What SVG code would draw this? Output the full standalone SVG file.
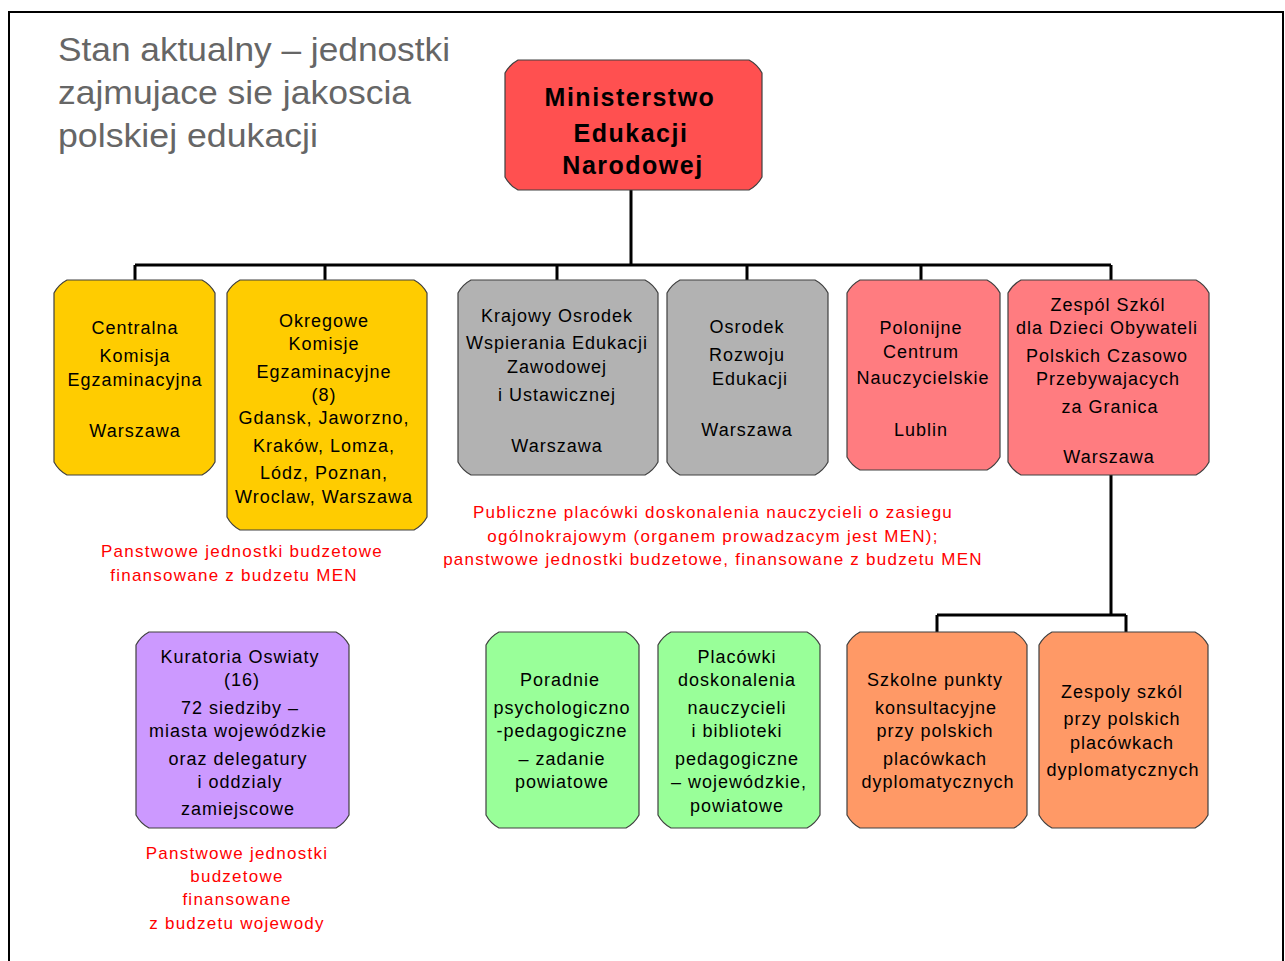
<svg xmlns="http://www.w3.org/2000/svg" width="1285" height="961" viewBox="0 0 1285 961">
<style>
.box{stroke:#404040;stroke-width:1.2}
.yel{fill:#FFCC00}.gry{fill:#B2B2B2}.pnk{fill:#FF7C80}.red{fill:#FF5050}
.pur{fill:#CC99FF}.grn{fill:#99FF99}.orn{fill:#FF9966}
.t{font-family:"Liberation Sans",Arial,sans-serif;font-size:18px;fill:#000;text-anchor:middle;letter-spacing:1px}
.b{font-family:"Liberation Sans",Arial,sans-serif;font-size:25px;font-weight:bold;fill:#000;text-anchor:middle;letter-spacing:1.5px}
.r{font-family:"Liberation Sans",Arial,sans-serif;font-size:17px;fill:#FF0000;text-anchor:middle;letter-spacing:1.25px}
.ttl{font-family:"Liberation Sans",Arial,sans-serif;font-size:34px;fill:#666666}
.ln{fill:none;stroke:#000;stroke-width:3}
</style>
<rect x="9" y="12" width="1274" height="960" fill="#fff" stroke="#000" stroke-width="2"/>
<g id="title">
<text class="ttl" x="58" y="61" textLength="392" lengthAdjust="spacingAndGlyphs">Stan aktualny – jednostki</text>
<text class="ttl" x="58" y="104" textLength="353" lengthAdjust="spacingAndGlyphs">zajmujace sie jakoscia</text>
<text class="ttl" x="58" y="147" textLength="260" lengthAdjust="spacingAndGlyphs">polskiej edukacji</text>
</g>
<g id="connectors">
<path class="ln" d="M631 190 V265 M135 265 H1111 M135 265 V281 M325 265 V281 M557 265 V281 M747 265 V281 M921 265 V281 M1111 265 V281"/>
<path class="ln" d="M1111 475 V615 M937 615 H1126 M937 615 V633 M1126 615 V633"/>
</g>
<g id="men">
<path class="box red" d="M518 60 H749 Q757.5 64.5 762 73 V177 Q757.5 185.5 749 190 H518 Q509.5 185.5 505 177 V73 Q509.5 64.5 518 60 Z"/>
<text class="b" x="630" y="106">Ministerstwo</text>
<text class="b" x="631" y="142">Edukacji</text>
<text class="b" x="633" y="174">Narodowej</text>
</g>
<g id="cke">
<path class="box yel" d="M67 280 H202 Q210.5 284.5 215 293 V462 Q210.5 470.5 202 475 H67 Q58.5 470.5 54 462 V293 Q58.5 284.5 67 280 Z"/>
<text class="t" x="135" y="334">Centralna</text>
<text class="t" x="135" y="362">Komisja</text>
<text class="t" x="135" y="386">Egzaminacyjna</text>
<text class="t" x="135" y="437">Warszawa</text>
</g>
<g id="oke">
<path class="box yel" d="M240 280 H414 Q422.5 284.5 427 293 V517 Q422.5 525.5 414 530 H240 Q231.5 525.5 227 517 V293 Q231.5 284.5 240 280 Z"/>
<text class="t" x="324" y="327">Okregowe</text>
<text class="t" x="324" y="350">Komisje</text>
<text class="t" x="324" y="378">Egzaminacyjne</text>
<text class="t" x="324" y="401">(8)</text>
<text class="t" x="324" y="424">Gdansk, Jaworzno,</text>
<text class="t" x="324" y="452">Kraków, Lomza,</text>
<text class="t" x="324" y="479">Lódz, Poznan,</text>
<text class="t" x="324" y="503">Wroclaw, Warszawa</text>
</g>
<g id="koweziu">
<path class="box gry" d="M471 280 H645 Q653.5 284.5 658 293 V462 Q653.5 470.5 645 475 H471 Q462.5 470.5 458 462 V293 Q462.5 284.5 471 280 Z"/>
<text class="t" x="557" y="322">Krajowy Osrodek</text>
<text class="t" x="557" y="349">Wspierania Edukacji</text>
<text class="t" x="557" y="373">Zawodowej</text>
<text class="t" x="557" y="401">i Ustawicznej</text>
<text class="t" x="557" y="452">Warszawa</text>
</g>
<g id="ore">
<path class="box gry" d="M680 280 H815 Q823.5 284.5 828 293 V462 Q823.5 470.5 815 475 H680 Q671.5 470.5 667 462 V293 Q671.5 284.5 680 280 Z"/>
<text class="t" x="747" y="333">Osrodek</text>
<text class="t" x="747" y="361">Rozwoju</text>
<text class="t" x="750" y="385">Edukacji</text>
<text class="t" x="747" y="436">Warszawa</text>
</g>
<g id="pcn">
<path class="box pnk" d="M860 280 H987 Q995.5 284.5 1000 293 V457 Q995.5 465.5 987 470 H860 Q851.5 465.5 847 457 V293 Q851.5 284.5 860 280 Z"/>
<text class="t" x="921" y="334">Polonijne</text>
<text class="t" x="921" y="358">Centrum</text>
<text class="t" x="923" y="384">Nauczycielskie</text>
<text class="t" x="921" y="436">Lublin</text>
</g>
<g id="zs">
<path class="box pnk" d="M1021 280 H1196 Q1204.5 284.5 1209 293 V462 Q1204.5 470.5 1196 475 H1021 Q1012.5 470.5 1008 462 V293 Q1012.5 284.5 1021 280 Z"/>
<text class="t" x="1108" y="311">Zespól Szkól</text>
<text class="t" x="1107" y="334">dla Dzieci Obywateli</text>
<text class="t" x="1107" y="362">Polskich Czasowo</text>
<text class="t" x="1108" y="385">Przebywajacych</text>
<text class="t" x="1110" y="413">za Granica</text>
<text class="t" x="1109" y="463">Warszawa</text>
</g>
<g id="note-men">
<text class="r" x="242" y="557">Panstwowe jednostki budzetowe</text>
<text class="r" x="234" y="581">finansowane z budzetu MEN</text>
</g>
<g id="note-public">
<text class="r" x="713" y="518">Publiczne placówki doskonalenia nauczycieli o zasiegu</text>
<text class="r" x="713" y="542">ogólnokrajowym (organem prowadzacym jest MEN);</text>
<text class="r" x="713" y="565">panstwowe jednostki budzetowe, finansowane z budzetu MEN</text>
</g>
<g id="kuratoria">
<path class="box pur" d="M149 632 H336 Q344.5 636.5 349 645 V815 Q344.5 823.5 336 828 H149 Q140.5 823.5 136 815 V645 Q140.5 636.5 149 632 Z"/>
<text class="t" x="240" y="663">Kuratoria Oswiaty</text>
<text class="t" x="242" y="686">(16)</text>
<text class="t" x="240" y="714">72 siedziby –</text>
<text class="t" x="238" y="737">miasta wojewódzkie</text>
<text class="t" x="238" y="765">oraz delegatury</text>
<text class="t" x="240" y="788">i oddzialy</text>
<text class="t" x="238" y="815">zamiejscowe</text>
</g>
<g id="note-woj">
<text class="r" x="237" y="859">Panstwowe jednostki</text>
<text class="r" x="237" y="882">budzetowe</text>
<text class="r" x="237" y="905">finansowane</text>
<text class="r" x="237" y="929">z budzetu wojewody</text>
</g>
<g id="poradnie">
<path class="box grn" d="M499 632 H626 Q634.5 636.5 639 645 V815 Q634.5 823.5 626 828 H499 Q490.5 823.5 486 815 V645 Q490.5 636.5 499 632 Z"/>
<text class="t" x="560" y="686">Poradnie</text>
<text class="t" x="562" y="714">psychologiczno</text>
<text class="t" x="562" y="737">-pedagogiczne</text>
<text class="t" x="562" y="765">– zadanie</text>
<text class="t" x="562" y="788">powiatowe</text>
</g>
<g id="placowki">
<path class="box grn" d="M671 632 H807 Q815.5 636.5 820 645 V815 Q815.5 823.5 807 828 H671 Q662.5 823.5 658 815 V645 Q662.5 636.5 671 632 Z"/>
<text class="t" x="737" y="663">Placówki</text>
<text class="t" x="737" y="686">doskonalenia</text>
<text class="t" x="737" y="714">nauczycieli</text>
<text class="t" x="737" y="737">i biblioteki</text>
<text class="t" x="737" y="765">pedagogiczne</text>
<text class="t" x="739" y="788">– wojewódzkie,</text>
<text class="t" x="737" y="812">powiatowe</text>
</g>
<g id="szkolne">
<path class="box orn" d="M860 632 H1014 Q1022.5 636.5 1027 645 V815 Q1022.5 823.5 1014 828 H860 Q851.5 823.5 847 815 V645 Q851.5 636.5 860 632 Z"/>
<text class="t" x="935" y="686">Szkolne punkty</text>
<text class="t" x="936" y="714">konsultacyjne</text>
<text class="t" x="935" y="737">przy polskich</text>
<text class="t" x="935" y="765">placówkach</text>
<text class="t" x="938" y="788">dyplomatycznych</text>
</g>
<g id="zespoly">
<path class="box orn" d="M1052 632 H1195 Q1203.5 636.5 1208 645 V815 Q1203.5 823.5 1195 828 H1052 Q1043.5 823.5 1039 815 V645 Q1043.5 636.5 1052 632 Z"/>
<text class="t" x="1122" y="698">Zespoly szkól</text>
<text class="t" x="1122" y="725">przy polskich</text>
<text class="t" x="1122" y="749">placówkach</text>
<text class="t" x="1123" y="776">dyplomatycznych</text>
</g>
</svg>
